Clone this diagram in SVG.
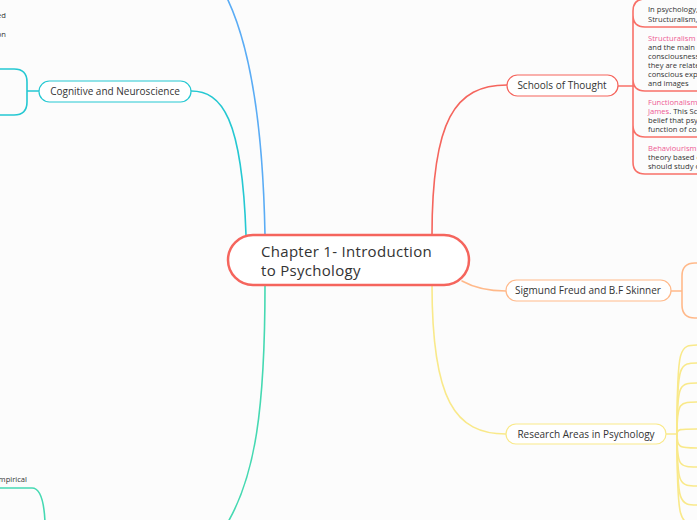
<svg xmlns="http://www.w3.org/2000/svg" width="697" height="520" viewBox="0 0 697 520">
<style>
.c{fill:none;stroke-width:1.6;stroke-linecap:round}
.t{font-family:"Open Sans","Noto Sans",sans-serif;fill:#333}
.n{font-size:10px;text-anchor:middle}
.s{font-size:7.6px}
.pk{fill:#ee5a93}
.box{fill:#fff;stroke-width:1.2}
</style>
<rect width="697" height="520" fill="#fcfcfc"/>
<g id="connectors">
  <path class="c" stroke="#5aacf5" d="M265,235 C263,130 252,50 227,-2"/>
  <path class="c" stroke="#25c8d2" d="M191,91 C222,91 242,118 246,235"/>
  <path class="c" stroke="#45d9b2" d="M265,285 C265,410 255,475 228,522"/>
  <path class="c" stroke="#f5655d" d="M432,235 C432,120 455,85 507,85"/>
  <path class="c" stroke="#ffb98a" d="M462,281 Q480,291 506,291"/>
  <path class="c" stroke="#f9e98a" d="M432,285 C432,400 455,434 506,434"/>
  <path class="c" stroke="#25c8d2" stroke-width="1.2" d="M39,91 H27 M-2,69 H14 Q27,69 27,82 V102 Q27,115 14,115 H-2"/>
  <path class="c" stroke="#45d9b2" stroke-width="1.2" d="M-2,488 H32 C40,488 44,500 45,522"/>
  <path class="c" stroke="#f87068" stroke-width="1.2" d="M618,86 H633"/>
  <path class="c" stroke="#f87068" stroke-width="1.2" d="M699,-1 H645 Q633,-1 633,11 V162 Q633,174 645,174 H699 M633,15 Q633,27 645,27 H699 M633,79 Q633,91 645,91 H699 M633,125 Q633,137 645,137 H699"/>
  <path class="c" stroke="#ffb98a" stroke-width="1.2" d="M671,291 H682 M699,263 H695 Q682,263 682,276 V305 Q682,318 695,318 H699"/>
  <g class="c" stroke="#f9e98a" stroke-width="1.2">
    <path d="M666,434 H677"/>
    <path d="M677,434 C677,345 679,345 699,345"/>
    <path d="M677,434 C677,363 679,363 699,363"/>
    <path d="M677,434 C677,383 679,383 699,383"/>
    <path d="M677,434 C677,402 679,402 699,402"/>
    <path d="M677,434 C677,429 679,429 699,429"/>
    <path d="M677,434 C677,448 679,448 699,448"/>
    <path d="M677,434 C677,467 679,467 699,467"/>
    <path d="M677,434 C677,486 679,486 699,486"/>
    <path d="M677,434 C677,505 679,505 699,505"/>
    <path d="M677,434 C677,524 679,524 699,524"/>
  </g>
</g>
<g id="central">
  <rect x="228" y="235" width="241" height="50" rx="25" fill="#fff" stroke="#f5655d" stroke-width="2.5"/>
  <text class="t" x="261" y="257" font-size="15" font-weight="500" letter-spacing="0.3">Chapter 1- Introduction</text>
  <text class="t" x="261" y="276" font-size="15" font-weight="500" letter-spacing="0.3">to Psychology</text>
</g>
<g id="cognitive">
  <rect class="box" x="39" y="81" width="152" height="21" rx="10.5" stroke="#25c8d2"/>
  <text class="t n" x="115" y="95">Cognitive and Neuroscience</text>
</g>
<g id="schools">
  <rect class="box" x="507" y="75" width="111" height="21" rx="10.5" stroke="#f5655d"/>
  <text class="t n" x="562" y="89">Schools of Thought</text>
</g>
<g id="sigmund">
  <rect class="box" x="506" y="280" width="165" height="21" rx="10.5" stroke="#ffb98a"/>
  <text class="t n" x="588" y="294">Sigmund Freud and B.F Skinner</text>
</g>
<g id="research">
  <rect class="box" x="506" y="424" width="160" height="20" rx="10" stroke="#f9e98a"/>
  <text class="t n" x="586" y="438">Research Areas in Psychology</text>
</g>
<g id="schools-children" class="t s">
  <text x="648" y="12">In psychology,</text>
  <text x="648" y="22">Structuralism,</text>
  <text x="648" y="41"><tspan class="pk">Structuralism</tspan> w</text>
  <text x="648" y="50">and the main i</text>
  <text x="648" y="59">consciousness</text>
  <text x="648" y="68">they are relate</text>
  <text x="648" y="77">conscious expe</text>
  <text x="648" y="86">and images</text>
  <text x="648" y="105"><tspan class="pk">Functionalism</tspan></text>
  <text x="648" y="114"><tspan class="pk">James</tspan>. This Sc</text>
  <text x="648" y="123">belief that psy</text>
  <text x="648" y="132">function of con</text>
  <text x="648" y="151"><tspan class="pk">Behaviourism</tspan></text>
  <text x="648" y="160">theory based o</text>
  <text x="648" y="169">should study o</text>
</g>
<g id="left-fragments" class="t s">
  <text x="6" y="18" text-anchor="end">ed</text>
  <text x="6" y="37" text-anchor="end">on</text>
  <text x="27" y="482" text-anchor="end">mpirical</text>
</g>
</svg>
